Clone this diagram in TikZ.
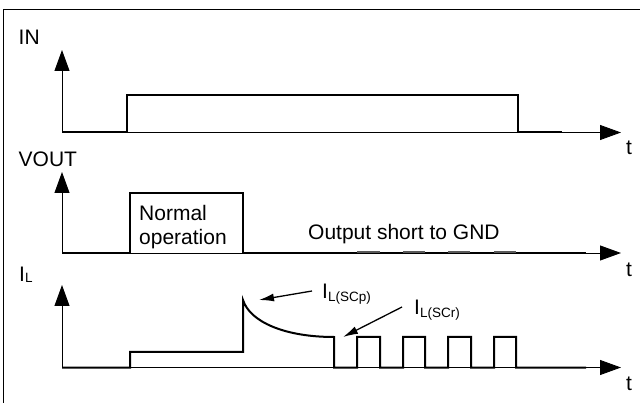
\documentclass[tikz,border=0pt]{standalone}
\usepackage{fontspec}
\setmainfont{Liberation Sans}
\usetikzlibrary{arrows.meta}
\newcommand{\subL}[2][1pt]{\raisebox{-#1}{\fontsize{13.5}{14}\selectfont #2}}
\begin{document}
\begin{tikzpicture}[x=1pt,y=-1pt,
  axis/.style={line width=0.9pt,-{Triangle[length=21pt,width=15pt]}},
  sig/.style={line width=2pt,line join=miter},
  lbl/.style={font=\fontsize{21}{24}\selectfont,inner sep=0pt,anchor=base west},
  note/.style={line width=1.3pt,-{Latex[length=15pt,width=8pt]}},
  bump/.style={black!65,line width=2pt}]
\useasboundingbox (0,0) rectangle (640,403);
\clip (0,0) rectangle (640,403);
\draw[line width=1.3pt] (3.5,420) -- (3.5,9.5) -- (660,9.5);

% axes
\coordinate (inO) at (62,132.5);  \coordinate (inY) at (62,50);  \coordinate (inX) at (621,132.5);
\coordinate (vO) at (62,253);     \coordinate (vY) at (62,172);  \coordinate (vX) at (621,253);
\coordinate (iO) at (62,367.5);   \coordinate (iY) at (62,285);  \coordinate (iX) at (621,367.5);
\draw[axis] (inO) -- (inY); \draw[axis] (inO) -- (inX);
\draw[axis] (vO) -- (vY);   \draw[axis] (vO) -- (vX);
\draw[axis] (iO) -- (iY);   \draw[axis] (iO) -- (iX);

% labels
\node[lbl] (inL) at (18.5,45) {IN};
\node[lbl] (voutL) at (18.5,167) {VOUT};
\node[lbl] (ilL) at (19,282) {I\subL{L}};
\node[lbl] (t1) at (626,155) {t};
\node[lbl] (t2) at (626,277) {t};
\node[lbl] (t3) at (626,390) {t};
\node[lbl] (norm1) at (139,221) {Normal};
\node[lbl] (norm2) at (139,245) {operation};
\node[lbl] (shortL) at (308,240) {Output short to GND};
\node[lbl] (scp) at (322,299) {I\subL[3pt]{L(SCp)}};
\node[lbl] (scr) at (414,315) {I\subL[3pt]{L(SCr)}};

% IN signal
\draw[sig] (62,132.5) -- (126.5,132.5) -- (126.5,95) -- (518,95) -- (518,132.5) -- (562,132.5);

% VOUT signal
\draw[sig] (62,253) -- (130,253) -- (130,193) -- (243,193) -- (243,253) -- (586,253);
\foreach \a/\b in {357/380,403/425,448/470,494/516}
  \draw[bump] (\a,252) -- (\b,252);

% IL signal
\draw[sig] (62,367.5) -- (130,367.5) -- (130,352) -- (243,352) -- (243,300)
  .. controls (250,322) and (285,337) .. (334,337) -- (334,367.5)
  -- (357,367.5) -- (357,337) -- (380,337) -- (380,367.5)
  -- (403,367.5) -- (403,337) -- (425,337) -- (425,367.5)
  -- (448,367.5) -- (448,337) -- (471,337) -- (471,367.5)
  -- (494,367.5) -- (494,337) -- (516,337) -- (516,367.5) -- (586,367.5);

% annotation arrows
\coordinate (scpTail) at (312,291); \coordinate (scpTip) at (259,300);
\coordinate (scrTail) at (402,307); \coordinate (scrTip) at (343,337);
\draw[note] (scpTail) -- (scpTip);
\draw[note] (scrTail) -- (scrTip);
\end{tikzpicture}
\end{document}
